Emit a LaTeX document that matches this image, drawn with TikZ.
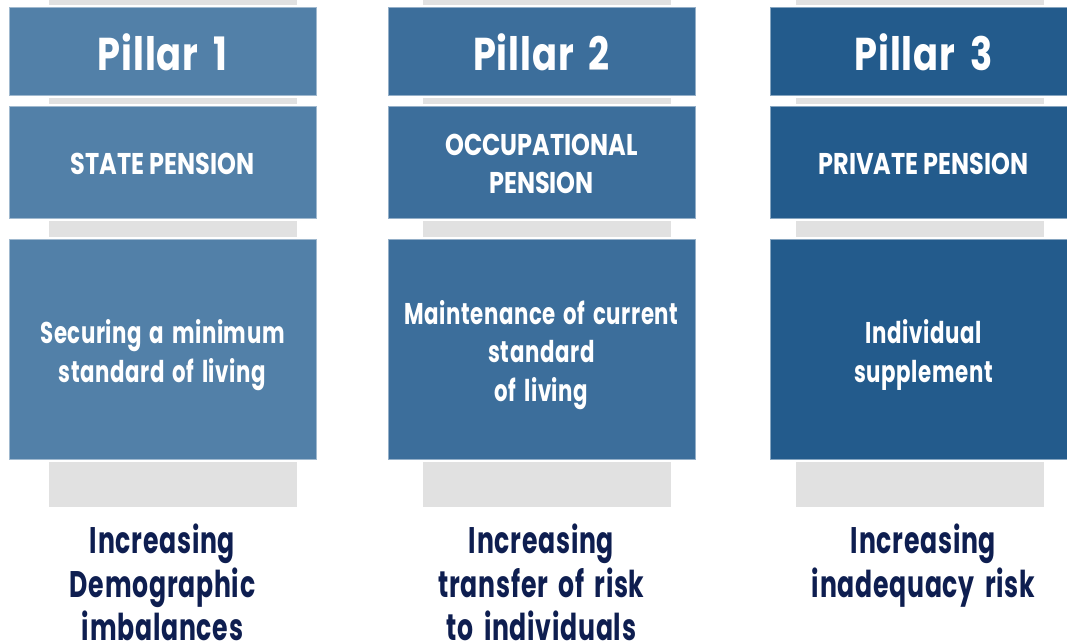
\documentclass[tikz,border=0pt]{standalone}
\usepackage{fontspec}
\newfontfamily\headfont[FakeStretch=0.80, LetterSpace=2, WordSpace=1.7]{Poppins}
\newfontfamily\kindfont[FakeStretch=0.80]{Poppins}
\newfontfamily\aimfont[FakeStretch=0.71, LetterSpace=2, WordSpace=1.5]{Poppins}
\newfontfamily\riskfont[FakeStretch=0.68, LetterSpace=2, WordSpace=1.7]{Poppins}

\definecolor{blueA}{HTML}{5280A8}
\definecolor{blueB}{HTML}{3C6E9B}
\definecolor{blueC}{HTML}{235B8C}
\definecolor{barGrey}{HTML}{E1E1E1}
\definecolor{navyText}{HTML}{0E1E50}

\tikzset{
  pillarbox/.style={draw=#1!55!white, line width=0.8pt, fill=#1},
  greybar/.style={fill=barGrey, draw=none},
  headtext/.style={text=white, font=\headfont\bfseries\fontsize{46}{50}\selectfont, inner sep=0pt},
  kindtext/.style={text=white, font=\kindfont\bfseries\fontsize{30}{38.5}\selectfont, align=center, inner sep=0pt},
  aimtext/.style={text=white, font=\aimfont\bfseries\fontsize{30}{38.5}\selectfont, align=center, inner sep=0pt},
  risktext/.style={text=navyText, font=\riskfont\bfseries\fontsize{37}{43.5}\selectfont, align=center, inner sep=0pt, anchor=north}
}

\begin{document}
\begin{tikzpicture}[x=1pt, y=-1pt]
  \useasboundingbox (0,0) rectangle (1067,643);
  \clip (0,0) rectangle (1067,643);

  % grey spacer bars between the blocks of each pillar
  \foreach \l/\r in {49/297, 423/671, 796/1044} {
    \fill[greybar] (\l,0) rectangle (\r,5);
    \fill[greybar] (\l,98) rectangle (\r,104);
    \fill[greybar] (\l,221) rectangle (\r,236.5);
    \fill[greybar] (\l,462) rectangle (\r,507);
  }

  % pillar 1
  \draw[pillarbox=blueA] (9,7.5) rectangle (316,95.5);
  \draw[pillarbox=blueA] (9,106) rectangle (316,218.5);
  \draw[pillarbox=blueA] (9,239) rectangle (316,459);
  % pillar 2
  \draw[pillarbox=blueB] (388,7.5) rectangle (695,95.5);
  \draw[pillarbox=blueB] (388,106) rectangle (695,218.5);
  \draw[pillarbox=blueB] (388,239) rectangle (695,459);
  % pillar 3
  \draw[pillarbox=blueC] (770,7.5) rectangle (1077,95.5);
  \draw[pillarbox=blueC] (770,106) rectangle (1077,218.5);
  \draw[pillarbox=blueC] (770,239) rectangle (1077,459);

  % headings
  \node[headtext] (h1) at (162.5,52) {Pillar 1};
  \node[headtext] (h2) at (541.5,52) {Pillar 2};
  \node[headtext] (h3) at (923.5,52) {Pillar 3};

  % kinds of pension
  \node[kindtext] (k1) at (162.5,164) {STATE PENSION};
  \node[kindtext] (k2) at (541.5,164) {OCCUPATIONAL\\PENSION};
  \node[kindtext] (k3) at (923.5,164) {PRIVATE PENSION};

  % aims
  \node[aimtext] (a1) at (162.5,355) {Securing a minimum\\standard of living};
  \node[aimtext] (a2) at (541.5,355) {Maintenance of current\\standard\\of living};
  \node[aimtext] (a3) at (923.5,355) {Individual\\supplement};

  % risks
  \node[risktext] (r1) at (162.5,524) {Increasing\\Demographic\\imbalances};
  \node[risktext] (r2) at (541.5,524) {Increasing\\transfer of risk\\to individuals};
  \node[risktext] (r3) at (923.5,524) {Increasing\\inadequacy risk};
\end{tikzpicture}
\end{document}
